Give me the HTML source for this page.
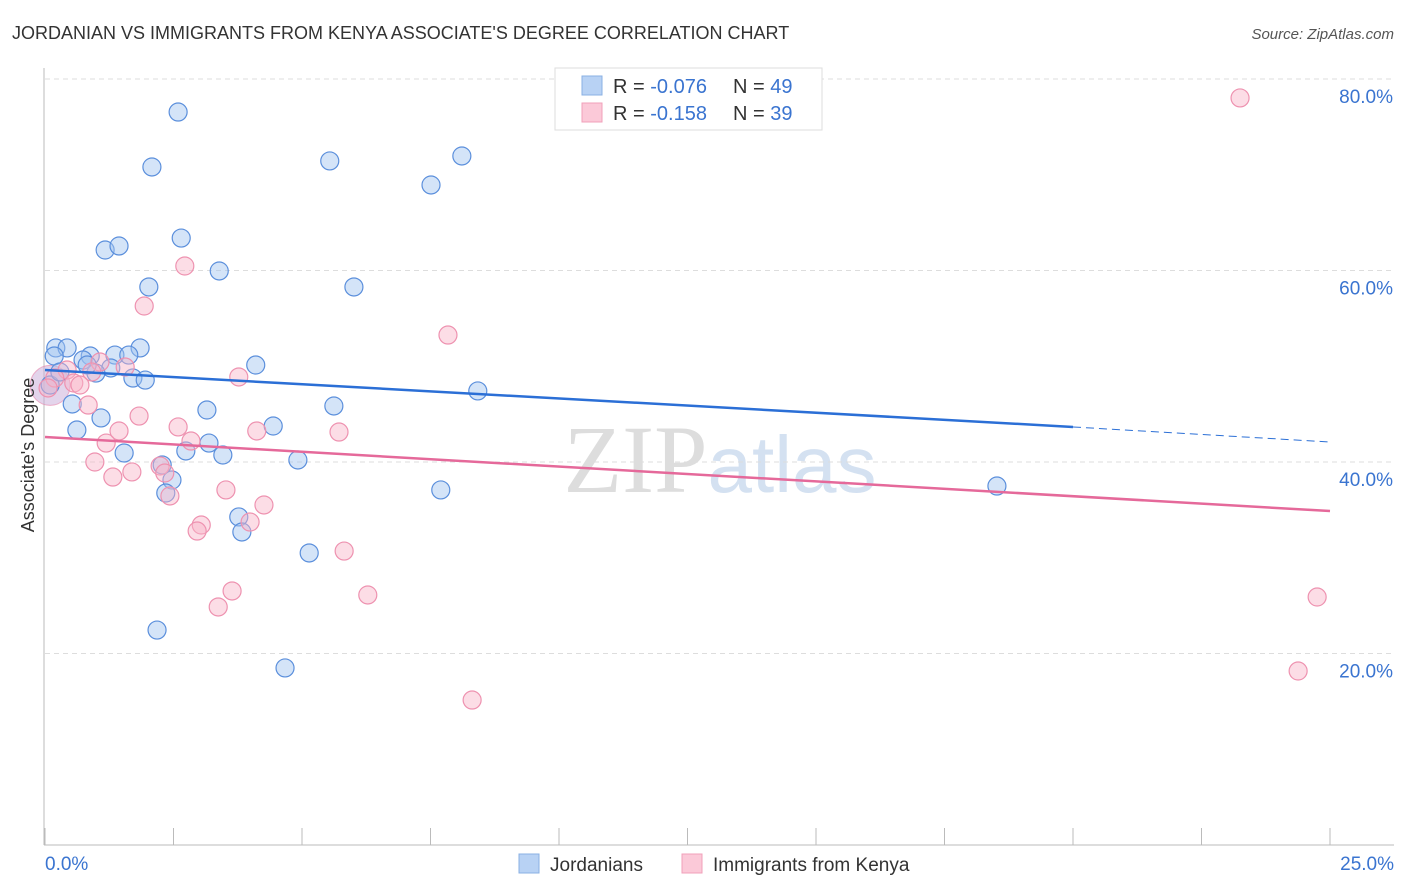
<!DOCTYPE html>
<html><head><meta charset="utf-8"><style>
body{margin:0;background:#fff;font-family:"Liberation Sans",sans-serif;}
svg{display:block}
</style></head><body>
<svg width="1406" height="892" xmlns="http://www.w3.org/2000/svg">
<text x="12" y="39" font-size="18" fill="#333">JORDANIAN VS IMMIGRANTS FROM KENYA ASSOCIATE'S DEGREE CORRELATION CHART</text>
<text x="1394" y="39" font-size="15" fill="#555" text-anchor="end" font-style="italic">Source: ZipAtlas.com</text>
<text x="720" y="492" font-size="96" fill="#ddd" text-anchor="middle" font-family="Liberation Serif,serif">ZIP<tspan fill="#d4e1f1" font-family="Liberation Sans,sans-serif" font-size="80">atlas</tspan></text>
<g id="grid"></g>
<g id="axes"></g>
<g id="marks"></g>
<text transform="translate(34,455) rotate(-90)" font-size="18" fill="#333" text-anchor="middle">Associate's Degree</text>
<g>
<rect x="555" y="68" width="267" height="62" fill="#fff" stroke="#ddd"/>
<rect x="582" y="76" width="20" height="19" fill="#b8d2f4" stroke="#8ab0e3"/>
<rect x="582" y="103" width="20" height="19" fill="#fbc9d8" stroke="#f0a0ba"/>
<text x="613" y="93" font-size="20" fill="#333">R = <tspan fill="#3a74d0">-0.076</tspan>   <tspan x="733">N = </tspan><tspan fill="#3a74d0">49</tspan></text>
<text x="613" y="120" font-size="20" fill="#333">R =  <tspan fill="#3a74d0">-0.158</tspan>   <tspan x="733">N = </tspan><tspan fill="#3a74d0">39</tspan></text>
</g>
<g>
<rect x="519" y="854" width="20" height="19" fill="#b8d2f4" stroke="#8ab0e3"/>
<text x="550" y="871" font-size="19" fill="#333">Jordanians</text>
<rect x="682" y="854" width="20" height="19" fill="#fbc9d8" stroke="#f0a0ba"/>
<text x="713" y="871" font-size="19" fill="#333">Immigrants from Kenya</text>
</g>
</svg>
<script>
const blueX=[2.59,2.08,5.54,8.11,7.51,2.65,1.17,1.44,3.39,2.02,6.01,0.21,0.43,0.18,0.88,1.85,1.36,1.63,0.74,1.28,0.99,1.71,1.95,4.10,8.42,0.53,1.09,3.15,5.62,0.62,4.44,1.54,2.74,3.19,3.46,4.92,2.28,2.47,2.35,7.70,18.52,3.77,3.83,5.14,2.18,4.67,0.10,0.29,0.82];
const blueY=[76.55,70.81,71.44,71.96,68.93,63.39,62.14,62.56,59.95,58.28,58.28,51.91,51.91,51.07,51.07,51.91,51.17,51.17,50.65,49.82,49.29,48.77,48.56,50.13,47.42,46.06,44.60,45.43,45.85,43.34,43.76,40.94,41.15,41.98,40.73,40.21,39.69,38.12,36.76,37.08,37.49,34.26,32.69,30.50,22.45,18.49,48.04,49.40,50.13];
const pinkX=[23.25,2.72,1.93,7.84,1.07,1.56,0.43,0.91,0.19,0.56,0.68,3.77,0.06,0.84,1.83,1.19,1.44,2.59,2.84,5.72,4.12,0.97,2.24,2.33,1.69,1.32,3.52,2.43,4.26,3.04,2.96,3.99,5.82,3.64,3.37,6.28,8.31,24.75,24.38];
const pinkY=[78.02,60.47,56.29,53.26,50.44,49.92,49.61,49.40,48.77,48.25,48.04,48.88,47.73,45.95,44.80,41.98,43.24,43.66,42.19,43.13,43.24,40.00,39.58,38.85,38.96,38.43,37.08,36.45,35.51,33.42,32.79,33.73,30.70,26.53,24.86,26.11,15.14,25.90,18.17];
const blueTrend=[49.61,43.66,42.09]; const blueTrendX=[0,20,25];
const pinkTrend=[42.61,34.88]; const pinkTrendX=[0,25];
const yTicks=[20,40,60,80]; const yTickLabels=["20.0%","40.0%","60.0%","80.0%"];
const xTickLabels=["0.0%","25.0%"];
const NS="http://www.w3.org/2000/svg";
const sx=v=>45+v*1285/25, sy=v=>845-v*9.575;
function mk(t,a,p){const e=document.createElementNS(NS,t);for(const k in a)e.setAttribute(k,a[k]);document.getElementById(p).appendChild(e);return e;}
yTicks.forEach((t,i)=>{
 const g=mk('line',{x1:45,x2:1394,y1:sy(t),y2:sy(t),stroke:'#ddd','stroke-dasharray':'5,4'},'grid');
 
 
 const l=mk('text',{x:1393,y:sy(t)+24,'font-size':19,fill:'#3a74d0','text-anchor':'end'},'grid');
 l.textContent=yTickLabels[i];
 
 
});
mk('line',{x1:44,x2:44,y1:68,y2:845,stroke:'#bbb'},'axes');
mk('line',{x1:44,x2:1394,y1:845,y2:845,stroke:'#bbb'},'axes');
for(let i=0;i<=10;i++){const x=sx(i*2.5);const t=mk('line',{x1:x,x2:x,y1:828,y2:845,stroke:'#bbb'},'axes');
 
 }
[0,25].forEach((v,i)=>{const l=mk('text',{x:i?1394:45,y:870,'font-size':19,fill:'#3a74d0','text-anchor':i?'end':'start'},'axes');
 l.textContent=xTickLabels[i];
 
 });
// big cluster circles
const b1=mk('circle',{cx:sx(0.1),cy:sy(48),r:20,fill:'rgba(200,170,215,0.5)',stroke:'rgba(230,130,170,0.6)'},'marks');


blueX.forEach((x,i)=>{const c=mk('circle',{cx:sx(x),cy:sy(blueY[i]),r:9,fill:'rgba(160,195,240,0.45)',stroke:'#5b8fdc','stroke-width':1.2},'marks');
 
 });
pinkX.forEach((x,i)=>{const c=mk('circle',{cx:sx(x),cy:sy(pinkY[i]),r:9,fill:'rgba(248,180,200,0.45)',stroke:'#ee92b0','stroke-width':1.2},'marks');
 
 });
const t1=mk('line',{x1:sx(blueTrendX[0]),y1:sy(blueTrend[0]),x2:sx(blueTrendX[1]),y2:sy(blueTrend[1]),stroke:'#2b6fd6','stroke-width':2.5},'marks');


const t2=mk('line',{x1:sx(blueTrendX[1]),y1:sy(blueTrend[1]),x2:sx(blueTrendX[2]),y2:sy(blueTrend[2]),stroke:'#2b6fd6','stroke-width':1,'stroke-dasharray':'8,5'},'marks');


const t3=mk('line',{x1:sx(pinkTrendX[0]),y1:sy(pinkTrend[0]),x2:sx(pinkTrendX[1]),y2:sy(pinkTrend[1]),stroke:'#e5699a','stroke-width':2.5},'marks');


</script>
</body></html>
